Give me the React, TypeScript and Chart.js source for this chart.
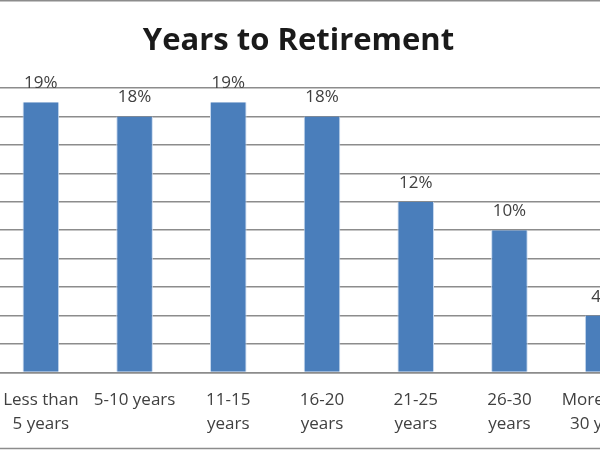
import React, { useEffect, useRef } from "react";
import { Chart, registerables } from "chart.js";

Chart.register(...registerables);

const categories: string[][] = [
  ["Less than", "5 years"],
  ["5-10 years"],
  ["11-15", "years"],
  ["16-20", "years"],
  ["21-25", "years"],
  ["26-30", "years"],
  ["More than", "30 years"],
];
const values: number[] = [19, 18, 19, 18, 12, 10, 4];
const yMax = 20;
const yStep = 2;
const titleText = "Years to Retirement";

const FONT = "'Open Sans', 'DejaVu Sans', sans-serif";
const OFFSET_X = 40;

const decorPlugin = {
  id: "decor",
  afterDatasetsDraw(chart: any) {
    const ctx = chart.ctx;
    const meta = chart.getDatasetMeta(0);
    ctx.save();
    ctx.fillStyle = "#404040";
    ctx.font = `17px ${FONT}`;
    ctx.textAlign = "center";
    ctx.textBaseline = "alphabetic";
    meta.data.forEach((bar: any, i: number) => {
      ctx.fillText(values[i] + "%", bar.x, bar.y - 14);
    });
    ctx.restore();
  },
  afterDraw(chart: any) {
    const ctx = chart.ctx;
    ctx.save();
    ctx.fillStyle = "#1a1a1a";
    ctx.font = `bold 31px ${FONT}`;
    ctx.textAlign = "center";
    ctx.textBaseline = "alphabetic";
    ctx.fillText(titleText, 298.5 + OFFSET_X, 50);
    ctx.strokeStyle = "#8c8c8c";
    ctx.lineWidth = 1.5;
    ctx.beginPath();
    ctx.moveTo(0, 0.75);
    ctx.lineTo(chart.width, 0.75);
    ctx.moveTo(0, 448.5);
    ctx.lineTo(chart.width, 448.5);
    ctx.stroke();
    ctx.restore();
  },
};

export default function App() {
  const ref = useRef<HTMLCanvasElement>(null);
  useEffect(() => {
    if (!ref.current) return;
    const chart = new Chart(ref.current, {
      type: "bar",
      data: {
        labels: categories,
        datasets: [
          {
            data: values,
            backgroundColor: "#4a7ebb",
            borderColor: "#c5d7ee",
            borderWidth: { left: 1, right: 1, top: 0, bottom: 0 },
            barPercentage: 0.39,
            categoryPercentage: 1,
          },
        ],
      },
      options: {
        animation: false,
        responsive: false,
        layout: { padding: { left: 34, right: 30, top: 88, bottom: 18 } },
        plugins: {
          legend: { display: false },
          tooltip: { enabled: false },
          title: { display: false },
        },
        scales: {
          x: {
            grid: { display: false, drawTicks: false },
            border: { display: true, color: "#8c8c8c", width: 1.5 },
            ticks: {
              color: "#404040",
              font: { family: FONT, size: 17, lineHeight: 1.4 },
              padding: 16,
              maxRotation: 0,
              autoSkip: false,
            },
          },
          y: {
            min: 0,
            max: yMax,
            grid: { color: "#8c8c8c", lineWidth: 1.5, drawTicks: false },
            border: { display: false },
            ticks: { display: false, stepSize: yStep },
          },
        },
      },
      plugins: [decorPlugin],
    });
    return () => chart.destroy();
  }, []);
  return (
    <div
      style={{
        position: "fixed",
        left: 0,
        top: 0,
        width: 600,
        height: 450,
        overflow: "hidden",
        background: "#ffffff",
      }}
    >
      <canvas
        ref={ref}
        width={720}
        height={470}
        style={{ position: "absolute", left: -OFFSET_X, top: 0 }}
      />
    </div>
  );
}
